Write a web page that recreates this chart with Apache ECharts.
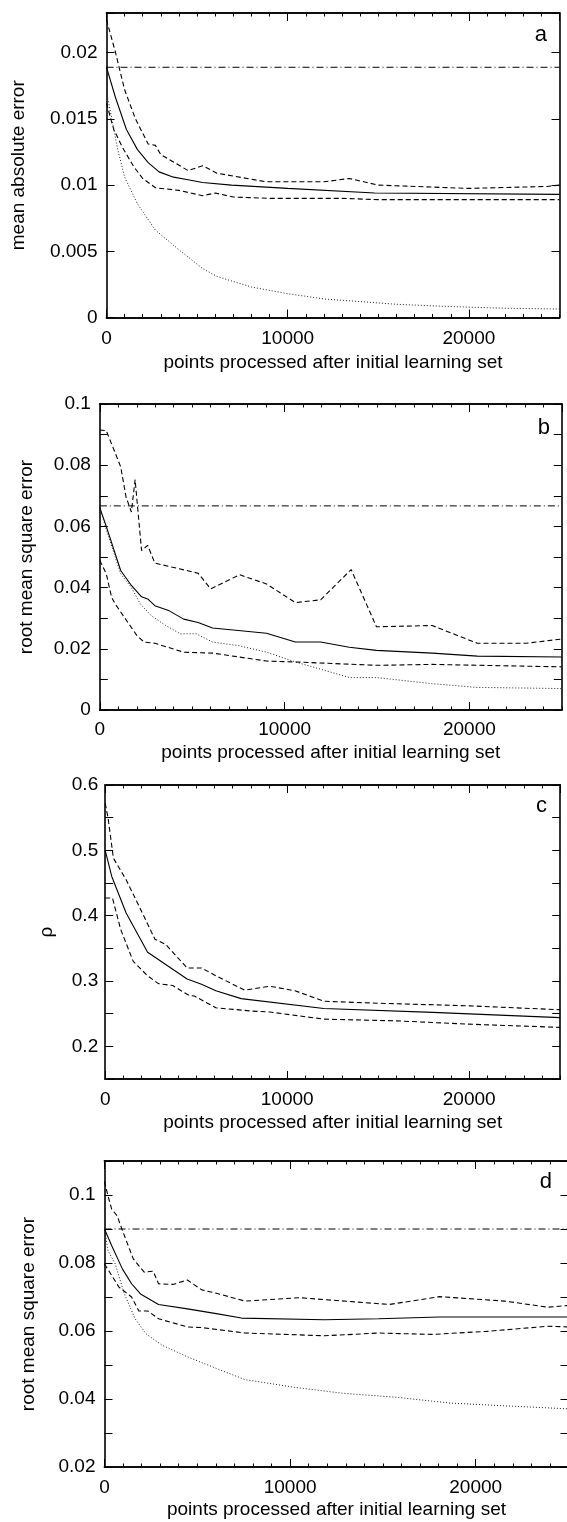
<!DOCTYPE html>
<html><head><meta charset="utf-8">
<script src="https://cdn.jsdelivr.net/npm/echarts@6/dist/echarts.min.js"></script>
<style>html,body{margin:0;padding:0;background:#fff}#c{width:567px;height:1522px}</style>
</head><body><div id="c"></div>
<script>
// ---------- data ----------
const xTickLabels = ['0', '10000', '20000'];
const xTitle = 'points processed after initial learning set';

// panel a : mean absolute error
const aYTickLabels = ['0', '0.005', '0.01', '0.015', '0.02'];
const aBaseline = 0.0189;
const aMeanX = [0, 500, 1100, 1700, 2300, 2900, 3700, 4500, 5300, 6900, 10000, 14800, 25000];
const aMeanY = [0.0189, 0.0166, 0.0142, 0.0127, 0.0117, 0.0110, 0.0106, 0.0104, 0.0102, 0.0100, 0.00975, 0.0094, 0.0093];
const aUpX = [0, 500, 1000, 1600, 2300, 2700, 3000, 4500, 5300, 6100, 8800, 12000, 13400, 15000, 20000, 24300, 25000];
const aUpY = [0.0225, 0.0200, 0.0172, 0.0150, 0.0131, 0.0130, 0.0123, 0.0111, 0.01146, 0.0109, 0.01025, 0.01025, 0.0105, 0.0100, 0.00975, 0.0099, 0.0100];
const aLoX = [0, 400, 900, 1500, 2000, 2700, 4000, 5300, 6000, 7000, 9000, 13000, 15000, 25000];
const aLoY = [0.0162, 0.0142, 0.0128, 0.0114, 0.0105, 0.0098, 0.0096, 0.0092, 0.0094, 0.0091, 0.0090, 0.0090, 0.0089, 0.0089];
const aDotX = [0, 300, 600, 1000, 1700, 2700, 4100, 5300, 6100, 8000, 10000, 12000, 14000, 16000, 18000, 20000, 22000, 25000];
const aDotY = [0.0170, 0.0150, 0.0128, 0.0106, 0.0086, 0.0066, 0.0050, 0.0037, 0.0031, 0.0023, 0.0018, 0.0014, 0.0012, 0.0010, 0.00088, 0.00078, 0.0007, 0.00064];

// panel b : root mean square error
const bYTickLabels = ['0', '0.02', '0.04', '0.06', '0.08', '0.1'];
const bBaseline = 0.0667;
const bUpX = [0, 350, 1130, 1420, 1710, 1910, 2260, 2590, 2980, 5320, 6000, 7560, 9020, 10580, 11950, 13600, 14970, 17990, 20430, 23060, 25000];
const bUpY = [0.0915, 0.0913, 0.0795, 0.0696, 0.0647, 0.0753, 0.0521, 0.0538, 0.0480, 0.0447, 0.0396, 0.0442, 0.0412, 0.0351, 0.0360, 0.0459, 0.0272, 0.0276, 0.0218, 0.0218, 0.0232];
const bMeanX = [0, 350, 1130, 1710, 2260, 2590, 2980, 3760, 4540, 5320, 6100, 9020, 10580, 11950, 13500, 14970, 17990, 20430, 25000];
const bMeanY = [0.0661, 0.0600, 0.0456, 0.0407, 0.0370, 0.0363, 0.0341, 0.0324, 0.0297, 0.0286, 0.0268, 0.0251, 0.0222, 0.0222, 0.0205, 0.0195, 0.0186, 0.0176, 0.0173];
const bLoX = [0, 350, 640, 840, 2010, 2400, 2980, 4540, 6100, 9020, 10580, 14970, 17990, 25000];
const bLoY = [0.0489, 0.0445, 0.0368, 0.0346, 0.0243, 0.0222, 0.0218, 0.0189, 0.0186, 0.0160, 0.0157, 0.0146, 0.0149, 0.0141];
const bDotX = [0, 350, 1130, 1710, 2200, 2790, 3570, 4350, 5220, 6100, 7460, 9020, 10580, 12140, 13500, 14970, 17990, 20330, 25000];
const bDotY = [0.0661, 0.0590, 0.0445, 0.0400, 0.0346, 0.0308, 0.0276, 0.0249, 0.0249, 0.0222, 0.0211, 0.0189, 0.0157, 0.0130, 0.0106, 0.0106, 0.0086, 0.0074, 0.0070];

// panel c : rho
const cYTickLabels = ['0.2', '0.3', '0.4', '0.5', '0.6'];
const cUpX = [0, 160, 450, 1150, 2130, 2730, 3320, 4500, 5290, 6080, 7660, 9050, 10430, 12010, 15000, 20000, 25000];
const cUpY = [0.572, 0.549, 0.488, 0.455, 0.399, 0.364, 0.356, 0.320, 0.320, 0.308, 0.286, 0.292, 0.285, 0.269, 0.266, 0.262, 0.256];
const cMeanX = [0, 360, 1150, 2330, 2920, 4500, 5290, 6080, 7470, 12010, 18000, 25000];
const cMeanY = [0.500, 0.460, 0.404, 0.344, 0.333, 0.303, 0.295, 0.285, 0.273, 0.258, 0.252, 0.244];
const cLoX = [0, 400, 850, 1540, 2330, 2920, 3710, 4600, 4900, 6080, 8060, 9050, 12010, 16000, 19900, 25000];
const cLoY = [0.427, 0.427, 0.379, 0.330, 0.308, 0.296, 0.293, 0.278, 0.277, 0.259, 0.254, 0.2525, 0.2416, 0.239, 0.234, 0.229];

// panel d : root mean square error
const dYTickLabels = ['0.02', '0.04', '0.06', '0.08', '0.1'];
const dBaseline = 0.0900;
const dUpX = [0, 190, 390, 680, 970, 1550, 2140, 2620, 2910, 3690, 4470, 5240, 6020, 7570, 10490, 15340, 18060, 21560, 23890, 25000];
const dUpY = [0.1040, 0.0997, 0.0958, 0.0939, 0.0895, 0.0812, 0.0773, 0.0776, 0.0739, 0.0737, 0.0750, 0.0721, 0.0711, 0.0688, 0.0698, 0.0678, 0.0701, 0.0688, 0.0670, 0.0675];
const dMeanX = [0, 390, 970, 1460, 1940, 2910, 4470, 6020, 7380, 11850, 14760, 18060, 25000];
const dMeanY = [0.0900, 0.0851, 0.0782, 0.0739, 0.0709, 0.0678, 0.0665, 0.0651, 0.0638, 0.0633, 0.0636, 0.0641, 0.0641];
const dLoX = [0, 780, 1460, 1850, 2330, 2910, 4470, 5240, 7570, 11850, 14760, 17670, 20590, 23890, 25000];
const dLoY = [0.0797, 0.0729, 0.0700, 0.0659, 0.0659, 0.0636, 0.0612, 0.0610, 0.0594, 0.0586, 0.0594, 0.0590, 0.0599, 0.0614, 0.0612];
const dDotX = [0, 190, 580, 1070, 1650, 2230, 3110, 4470, 6020, 7570, 10290, 12820, 15730, 18640, 21560, 25000];
const dDotY = [0.0900, 0.0836, 0.0797, 0.0709, 0.0636, 0.0592, 0.0558, 0.0524, 0.0490, 0.0457, 0.0434, 0.0417, 0.0405, 0.0388, 0.0380, 0.0371];

const xRange = [0, 25000];

// ---------- build ----------
const FONT = '"Liberation Sans", Arial, Helvetica, sans-serif';
const FS = 19;
const BLACK = '#000';
const DASH = [5, 3];
const DOT = [1, 2];
const DASHDOT = [7, 3, 1, 3];

const zip = (xs, ys) => xs.map((x, i) => [x, ys[i]]);
const fmt = arr => v => { const s = arr.find(t => Math.abs(parseFloat(t) - v) < 1e-9); return s === undefined ? '' : s; };

const panels = [
  { grid: { left: 106.5, top: 13, width: 453, height: 304.5 }, ymin: 0, ymax: 0.023, yint: 0.005, yTicks: aYTickLabels,
    yName: 'mean absolute error', nameGap: 78, labelMargin: 9, xMargin: 12, xGap: 36, letter: 'a', letterPos: [547, 24],
    lines: [[aUpX, aUpY, DASH], [aMeanX, aMeanY, 'solid'], [aLoX, aLoY, DASH], [aDotX, aDotY, DOT]], base: aBaseline },
  { grid: { left: 99.8, top: 404, width: 462, height: 306 }, ymin: 0, ymax: 0.1, yint: 0.01, yTicks: bYTickLabels,
    yName: 'root mean square error', nameGap: 64, labelMargin: 9, xMargin: 10, xGap: 33, letter: 'b', letterPos: [550, 417],
    lines: [[bUpX, bUpY, DASH], [bMeanX, bMeanY, 'solid'], [bLoX, bLoY, DASH], [bDotX, bDotY, DOT]], base: bBaseline },
  { grid: { left: 105.2, top: 785, width: 455, height: 294 }, ymin: 0.15, ymax: 0.6, yint: 0.05, yTicks: cYTickLabels,
    yName: 'ρ', nameGap: 49, labelMargin: 7, xMargin: 11, xGap: 34, letter: 'c', letterPos: [547, 795],
    lines: [[cUpX, cUpY, DASH], [cMeanX, cMeanY, 'solid'], [cLoX, cLoY, DASH]], base: null },
  { grid: { left: 104.5, top: 1161, width: 464, height: 306 }, ymin: 0.02, ymax: 0.11, yint: 0.01, yTicks: dYTickLabels,
    yName: 'root mean square error', nameGap: 66, labelMargin: 9, xMargin: 11, xGap: 33, letter: 'd', letterPos: [552, 1171],
    lines: [[dUpX, dUpY, DASH], [dMeanX, dMeanY, 'solid'], [dLoX, dLoY, DASH], [dDotX, dDotY, DOT]], base: dBaseline }
];

const grid = [], xAxis = [], yAxis = [], series = [], graphic = [];
const axisLine = { show: true, onZero: false, lineStyle: { color: BLACK, width: 1.6 } };

panels.forEach((p, gi) => {
  grid.push(Object.assign({ outerBoundsMode: 'none', containLabel: false }, p.grid));
  const xBase = xAxis.length;
  const mkX = (pos, interval, len, labels) => ({
    type: 'value', gridIndex: gi, position: pos, min: xRange[0], max: xRange[1], interval: interval,
    axisLine: axisLine, splitLine: { show: false },
    axisTick: { show: true, inside: true, length: len, lineStyle: { color: BLACK, width: 1 } },
    axisLabel: labels ? { show: true, margin: p.xMargin, color: BLACK, fontFamily: FONT, fontSize: FS, formatter: fmt(xTickLabels), showMaxLabel: false } : { show: false },
    name: labels ? xTitle : '', nameLocation: 'middle', nameGap: p.xGap,
    nameTextStyle: { color: BLACK, fontFamily: FONT, fontSize: FS }
  });
  xAxis.push(mkX('bottom', 1000, 3.5, false));
  xAxis.push(mkX('bottom', 10000, 8, true));
  xAxis.push(mkX('top', 1000, 3.5, false));
  xAxis.push(mkX('top', 10000, 8, false));
  const yBase = yAxis.length;
  const mkY = (pos, labels) => ({
    type: 'value', gridIndex: gi, position: pos, min: p.ymin, max: p.ymax, interval: p.yint,
    axisLine: axisLine, splitLine: { show: false },
    axisTick: { show: true, inside: true, length: 8, lineStyle: { color: BLACK, width: 1 } },
    axisLabel: labels ? { show: true, margin: p.labelMargin, color: BLACK, fontFamily: FONT, fontSize: FS, formatter: fmt(p.yTicks) } : { show: false },
    name: labels ? p.yName : '', nameLocation: 'middle', nameGap: p.nameGap, nameRotate: 90,
    nameTextStyle: { color: BLACK, fontFamily: FONT, fontSize: FS }
  });
  yAxis.push(mkY('left', true));
  yAxis.push(mkY('right', false));

  p.lines.forEach(([xs, ys, type]) => {
    series.push({
      type: 'line', xAxisIndex: xBase + 1, yAxisIndex: yBase, data: zip(xs, ys),
      showSymbol: false, symbol: 'none', silent: true, animation: false,
      lineStyle: { color: type === DOT ? '#222' : BLACK, width: type === DOT ? 1 : 1.1, type: type }
    });
  });
  if (p.base !== null) {
    series.push({
      type: 'line', xAxisIndex: xBase + 1, yAxisIndex: yBase, data: zip(xRange, [p.base, p.base]),
      showSymbol: false, symbol: 'none', silent: true, animation: false,
      lineStyle: { color: BLACK, width: 1, type: DASHDOT }
    });
  }
  graphic.push({
    type: 'text', x: p.letterPos[0], y: p.letterPos[1], silent: true,
    style: { text: p.letter, fill: BLACK, font: '22px ' + FONT, textAlign: 'right', textVerticalAlign: 'top' }
  });
});

const chart = echarts.init(document.getElementById('c'), null, { renderer: 'canvas' });
chart.setOption({ animation: false, backgroundColor: '#fff', grid, xAxis, yAxis, series, graphic });
</script>
</body></html>
